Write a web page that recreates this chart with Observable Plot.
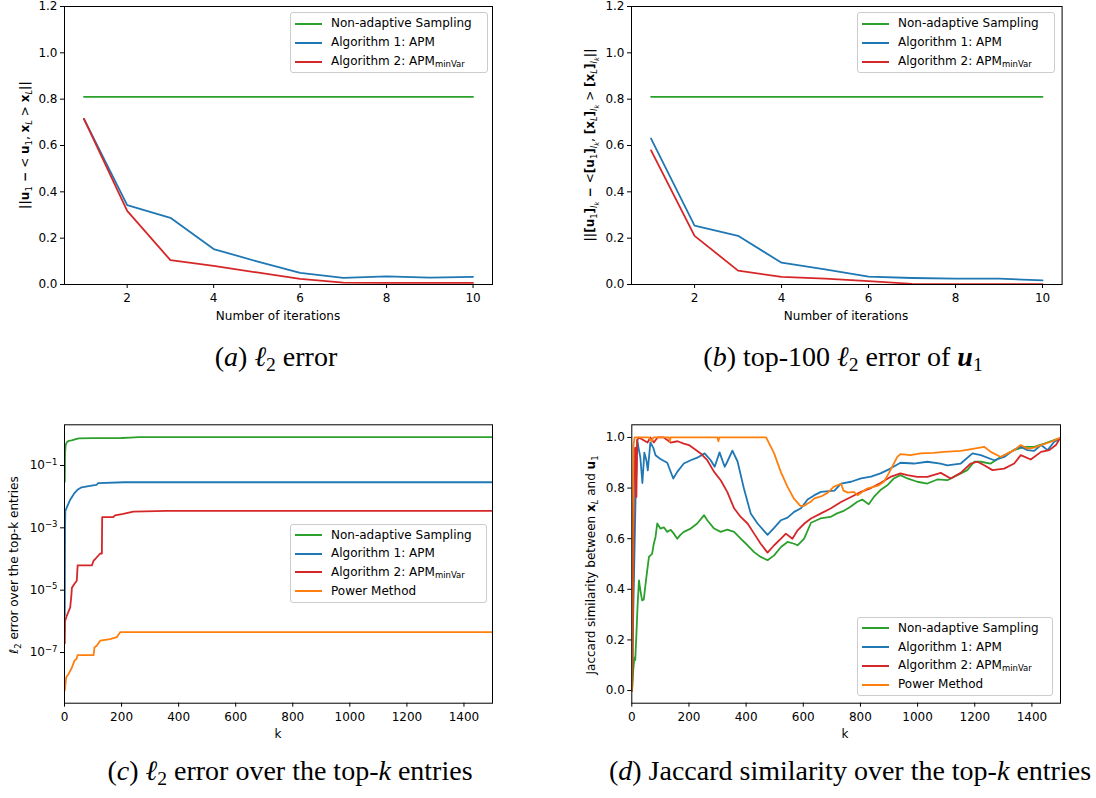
<!DOCTYPE html>
<html><head><meta charset="utf-8">
<script src="https://cdn.jsdelivr.net/npm/d3@7"></script>
<script src="https://cdn.jsdelivr.net/npm/@observablehq/plot@0.6"></script>
<style>
body{margin:0;background:#fff;}
#root{position:relative;width:1096px;height:798px;overflow:hidden;font-family:"DejaVu Sans",sans-serif;}
.panel{position:absolute;}
.legend{position:absolute;background:rgba(255,255,255,0.8);border:1px solid #cccccc;border-radius:3px;box-sizing:border-box;}
.lrow{position:absolute;font:12px "DejaVu Sans";color:#000;white-space:nowrap;line-height:14px;}
.lline{position:absolute;height:2px;}
.lrow sub{font-size:8.5px;vertical-align:-2px;line-height:0;}
.caption{position:absolute;width:700px;text-align:center;font-family:"Liberation Serif","Times New Roman",serif;font-size:28px;line-height:28px;color:#000;white-space:nowrap;}
.caption sub{font-size:0.7em;vertical-align:-0.25em;line-height:0;}
</style></head>
<body><div id="root"></div>
<script>
// ---------- data ----------
const seriesNames = ["Non-adaptive Sampling", "Algorithm 1: APM", "Algorithm 2: APM_minVar", "Power Method"];
const seriesColors = ["#2ca02c", "#1f77b4", "#d62728", "#ff7f0e"];

// (a) l2 error vs iterations
const iterations = [1, 2, 3, 4, 5, 6, 7, 8, 9, 10];
const errA_nonAdaptive = [0.81, 0.81, 0.81, 0.81, 0.81, 0.81, 0.81, 0.81, 0.81, 0.81];
const errA_apm = [0.715, 0.343, 0.288, 0.153, 0.1, 0.05, 0.029, 0.035, 0.03, 0.033];
const errA_minVar = [0.715, 0.318, 0.105, 0.08, 0.052, 0.024, 0.008, 0.007, 0.007, 0.007];

// (b) top-100 l2 error of u1
const errB_nonAdaptive = [0.81, 0.81, 0.81, 0.81, 0.81, 0.81, 0.81, 0.81, 0.81, 0.81];
const errB_apm = [0.63, 0.254, 0.21, 0.094, 0.065, 0.034, 0.028, 0.025, 0.025, 0.018];
const errB_minVar = [0.579, 0.21, 0.06, 0.033, 0.025, 0.015, 0.003, 0.002, 0.002, 0.002];

// (c) l2 error over the top-k entries (log scale)
const kC_nonAdaptive = [1, 2, 4, 8, 15, 25, 40, 50, 100, 200, 230, 260, 1500];
const errC_nonAdaptive = [0.03, 0.25, 0.45, 0.55, 0.62, 0.64, 0.70, 0.74, 0.75, 0.76, 0.78, 0.81, 0.81];
const kC_apm = [1, 2, 3, 10, 20, 35, 47, 60, 100, 112, 118, 210, 1500];
const errC_apm = [1.5e-6, 1e-3, 3.5e-3, 5e-3, 8e-3, 0.013, 0.017, 0.02, 0.023, 0.024, 0.027, 0.029, 0.029];
const kC_minVar = [1, 2, 6, 20, 24, 26, 35, 43, 46, 96, 102, 108, 125, 131, 132, 171, 177, 206, 241, 358, 1500];
const errC_minVar = [2e-7, 1e-6, 1.35e-6, 2.8e-6, 6.7e-6, 1.2e-5, 1.6e-5, 2e-5, 6.2e-5, 6.2e-5, 8.9e-5, 1.0e-4, 1.5e-4, 1.5e-4, 2.2e-3, 2.2e-3, 2.5e-3, 2.8e-3, 3.3e-3, 3.5e-3, 3.5e-3];
const kC_power = [1, 6, 15, 26, 35, 42, 46, 102, 105, 113, 125, 160, 183, 195, 1500];
const errC_power = [6e-9, 1.6e-8, 2.1e-8, 3.3e-8, 5.5e-8, 6.2e-8, 8.3e-8, 8.3e-8, 1.45e-7, 1.65e-7, 2.4e-7, 2.7e-7, 3.1e-7, 4.5e-7, 4.5e-7];

// (d) Jaccard similarity over the top-k entries
const kD_nonAdaptive = [1, 5, 9, 12, 16, 20, 25, 30, 36, 42, 48, 54, 60, 65, 71, 77, 83, 89, 100, 112, 124, 136, 147, 159, 170, 182, 206, 229, 253, 264, 288, 311, 334, 358, 381, 405, 428, 451, 475, 498, 522, 545, 568, 580, 603, 627, 660, 695, 718, 742, 765, 788, 806, 829, 847, 870, 894, 917, 940, 964, 999, 1034, 1069, 1104, 1139, 1174, 1198, 1221, 1256, 1291, 1338, 1373, 1408, 1443, 1478, 1500];
const jacD_nonAdaptive = [0, 0.08, 0.13, 0.12, 0.22, 0.33, 0.435, 0.396, 0.356, 0.36, 0.42, 0.475, 0.528, 0.534, 0.54, 0.58, 0.607, 0.66, 0.64, 0.645, 0.627, 0.635, 0.62, 0.6, 0.615, 0.627, 0.64, 0.66, 0.693, 0.673, 0.64, 0.627, 0.636, 0.627, 0.6, 0.574, 0.547, 0.528, 0.515, 0.534, 0.567, 0.587, 0.58, 0.574, 0.6, 0.663, 0.68, 0.686, 0.7, 0.71, 0.726, 0.745, 0.755, 0.736, 0.765, 0.792, 0.811, 0.838, 0.851, 0.838, 0.825, 0.818, 0.834, 0.831, 0.851, 0.871, 0.904, 0.904, 0.897, 0.923, 0.95, 0.963, 0.963, 0.976, 0.99, 0.996];
const kD_apm = [1, 5, 13, 19, 25, 30, 37, 44, 51, 56, 65, 75, 83, 100, 124, 145, 159, 182, 206, 229, 255, 276, 290, 307, 325, 334, 352, 370, 393, 416, 440, 475, 498, 522, 545, 568, 592, 615, 639, 662, 709, 732, 767, 802, 837, 870, 905, 940, 987, 1034, 1080, 1104, 1151, 1192, 1221, 1268, 1303, 1338, 1361, 1385, 1408, 1432, 1455, 1478, 1500];
const jacD_apm = [0, 0.3, 0.75, 0.99, 0.95, 0.92, 0.82, 0.94, 0.91, 0.87, 0.98, 0.96, 0.93, 0.915, 0.9, 0.838, 0.864, 0.897, 0.91, 0.92, 0.937, 0.91, 0.884, 0.941, 0.884, 0.904, 0.948, 0.905, 0.795, 0.7, 0.66, 0.615, 0.643, 0.673, 0.683, 0.706, 0.72, 0.755, 0.772, 0.785, 0.79, 0.818, 0.825, 0.838, 0.845, 0.858, 0.877, 0.9, 0.897, 0.904, 0.897, 0.89, 0.897, 0.937, 0.93, 0.91, 0.923, 0.952, 0.963, 0.95, 0.947, 0.97, 0.95, 0.983, 0.996];
const kD_minVar = [1, 4, 7, 9, 12, 16, 19, 25, 40, 55, 65, 77, 90, 112, 136, 160, 182, 200, 217, 241, 264, 288, 311, 334, 358, 381, 405, 428, 451, 475, 498, 522, 539, 562, 580, 604, 627, 662, 697, 732, 767, 802, 837, 870, 905, 940, 964, 999, 1034, 1081, 1116, 1151, 1186, 1209, 1233, 1262, 1303, 1338, 1361, 1396, 1432, 1461, 1484, 1500];
const jacD_minVar = [0, 0.3, 0.74, 0.95, 0.96, 0.765, 0.99, 1.0, 0.99, 0.98, 1.0, 0.98, 1.0, 1.0, 0.98, 0.985, 0.976, 0.97, 0.956, 0.937, 0.91, 0.864, 0.831, 0.785, 0.72, 0.686, 0.66, 0.62, 0.58, 0.545, 0.574, 0.6, 0.62, 0.6, 0.633, 0.66, 0.68, 0.70, 0.72, 0.745, 0.765, 0.785, 0.8, 0.82, 0.844, 0.858, 0.851, 0.844, 0.844, 0.86, 0.838, 0.86, 0.897, 0.904, 0.89, 0.871, 0.877, 0.897, 0.93, 0.913, 0.943, 0.95, 0.97, 1.0];
const kD_power = [1, 3, 6, 10, 60, 70, 75, 80, 130, 133, 136, 300, 303, 306, 470, 498, 522, 545, 568, 590, 603, 615, 625, 639, 662, 685, 706, 732, 741, 756, 777, 790, 823, 864, 882, 899, 929, 940, 975, 1011, 1057, 1092, 1151, 1198, 1233, 1256, 1291, 1315, 1338, 1361, 1385, 1408, 1432, 1467, 1500];
const jacD_power = [0, 0.6, 0.97, 1.0, 1.0, 0.985, 1.0, 1.0, 1.0, 0.985, 1.0, 1.0, 0.985, 1.0, 1.0, 0.937, 0.862, 0.805, 0.757, 0.73, 0.73, 0.739, 0.745, 0.759, 0.767, 0.781, 0.805, 0.817, 0.79, 0.782, 0.785, 0.772, 0.798, 0.811, 0.825, 0.858, 0.923, 0.934, 0.93, 0.937, 0.939, 0.943, 0.947, 0.956, 0.963, 0.943, 0.923, 0.937, 0.95, 0.97, 0.956, 0.96, 0.97, 0.983, 1.0];

// tick values
const ticksAB_x = [2, 4, 6, 8, 10];
const ticksAB_y = [0, 0.2, 0.4, 0.6, 0.8, 1.0, 1.2];
const ticksCD_x = [0, 200, 400, 600, 800, 1000, 1200, 1400];
const ticksC_y = [1e-7, 1e-5, 1e-3, 1e-1];
const ticksD_y = [0, 0.2, 0.4, 0.6, 0.8, 1.0];

// ---------- helpers ----------
function rows(xs, ys, name) { return xs.map((x, i) => ({x, y: ys[i], series: name})); }
const root = document.getElementById("root");
const FONT = "DejaVu Sans";

function place(el, left, top) {
  const d = document.createElement("div");
  d.className = "panel"; d.style.left = left + "px"; d.style.top = top + "px";
  d.appendChild(el); root.appendChild(d);
}

function svgText(svg, x, y, segs, rotate) {
  const size = 12;
  const sizes = [size, size * 0.7, size * 0.55];
  const shifts = [0, 3, 5];
  const t = d3.select(svg).append("text")
    .attr("text-anchor", "middle").attr("font-size", size).attr("fill", "#000")
    .attr("font-family", FONT).style("white-space", "pre")
    .attr("transform", rotate ? `translate(${x},${y}) rotate(-90)` : `translate(${x},${y})`);
  let level = 0;
  for (const s of segs) {
    const lvl = s.sub || 0;
    const ts = t.append("tspan").text(s.t).attr("font-size", sizes[lvl]);
    const dy = shifts[lvl] - shifts[level];
    if (dy) ts.attr("dy", dy);
    if (s.b) ts.attr("font-weight", "bold");
    if (s.i) ts.attr("font-style", "italic");
    level = lvl;
  }
  if (level) t.append("tspan").text("").attr("dy", -shifts[level]);
}

function legend(left, top, width, height, firstY, gap, names) {
  const box = document.createElement("div");
  box.className = "legend";
  Object.assign(box.style, {left: left + "px", top: top + "px", width: width + "px", height: height + "px"});
  root.appendChild(box);
  names.forEach((n, i) => {
    const cy = firstY + i * gap;
    const ln = document.createElement("div");
    ln.className = "lline";
    Object.assign(ln.style, {left: (left + 5) + "px", top: (cy - 1) + "px", width: "27px", background: seriesColors[seriesNames.indexOf(n)]});
    root.appendChild(ln);
    const tx = document.createElement("div");
    tx.className = "lrow";
    tx.style.left = (left + 41) + "px"; tx.style.top = (cy - 7.5) + "px";
    if (n.includes("_")) { const [a, b] = n.split("_"); tx.innerHTML = a + "<sub>" + b + "</sub>"; }
    else tx.textContent = n;
    root.appendChild(tx);
  });
}

function caption(center, top, html) {
  const d = document.createElement("div");
  d.className = "caption";
  d.style.left = (center - 350) + "px"; d.style.top = top + "px";
  d.innerHTML = html;
  root.appendChild(d);
}

const baseStyle = {fontFamily: FONT, fontSize: "12px", color: "#000", background: "transparent", overflow: "visible"};
const colorScale = {domain: seriesNames, range: seriesColors};
const expFmt = d => String(Math.round(Math.log10(d)));

function linePlot({data, width, height, margins, xDomain, yDomain, xTicks, yTicks, yType, yFmt, xFmt}) {
  return Plot.plot({
    width, height,
    marginLeft: margins[0], marginTop: margins[1], marginRight: margins[2], marginBottom: margins[3],
    style: baseStyle,
    x: {domain: xDomain, ticks: xTicks, tickSize: 4, tickPadding: 5, label: null, tickFormat: xFmt},
    y: {domain: yDomain, type: yType || "linear", ticks: yTicks, tickSize: 4, tickPadding: 3, label: null, tickFormat: yFmt},
    color: colorScale,
    marks: [
      Plot.line(data, {x: "x", y: "y", z: "series", stroke: "series", strokeWidth: 1.8, clip: true}),
      Plot.frame({stroke: "#000", strokeWidth: 1})
    ]
  });
}

// rewrite log tick labels as 10 with a real superscript exponent
function superscriptTicks(svg) {
  d3.select(svg).selectAll('g[aria-label="y-axis tick label"] text').each(function () {
    const t = d3.select(this);
    const e = t.text().replace("-", "−").replace("\u2212", "−");
    t.text("");
    t.append("tspan").text("10");
    t.append("tspan").text(e).attr("font-size", 8.5).attr("dy", "-0.55em");
  });
}

// ---------- panel (a) ----------
const dataA = [
  ...rows(iterations, errA_nonAdaptive, seriesNames[0]),
  ...rows(iterations, errA_apm, seriesNames[1]),
  ...rows(iterations, errA_minVar, seriesNames[2])
];
const pa = linePlot({data: dataA, width: 548, height: 330, margins: [64, 6, 56, 46],
  xDomain: [0.55, 10.45], yDomain: [0, 1.2], xTicks: ticksAB_x, yTicks: ticksAB_y, yFmt: d3.format(".1f"), xFmt: d3.format("d")});
svgText(pa, 278, 320, [{t: "Number of iterations"}]);
svgText(pa, 29, 145, [{t: "||", b: 1}, {t: "u", b: 1}, {t: "1", sub: 1}, {t: " − ", b: 1}, {t: "< "}, {t: "u", b: 1}, {t: "1", sub: 1},
  {t: ", "}, {t: "x", b: 1}, {t: "L", sub: 1, i: 1}, {t: " > "}, {t: "x", b: 1}, {t: "L", sub: 1, i: 1}, {t: "||", b: 1}], true);
place(pa, 0, 0);
legend(290, 12, 198, 61, 23.5, 19, seriesNames.slice(0, 3));

// ---------- panel (b) ----------
const dataB = [
  ...rows(iterations, errB_nonAdaptive, seriesNames[0]),
  ...rows(iterations, errB_apm, seriesNames[1]),
  ...rows(iterations, errB_minVar, seriesNames[2])
];
const pb = linePlot({data: dataB, width: 548, height: 330, margins: [83, 6, 34.4, 46],
  xDomain: [0.55, 10.45], yDomain: [0, 1.2], xTicks: ticksAB_x, yTicks: ticksAB_y, yFmt: d3.format(".1f"), xFmt: d3.format("d")});
svgText(pb, 298, 320, [{t: "Number of iterations"}]);
const Ik = [{t: "I", sub: 1, i: 1}, {t: "k", sub: 2, i: 1}];
svgText(pb, 46, 145, [
  {t: "||[", b: 1}, {t: "u", b: 1}, {t: "1", sub: 1}, {t: "]", b: 1}, ...Ik,
  {t: " − ", b: 1}, {t: "<", b: 0}, {t: "[", b: 1}, {t: "u", b: 1}, {t: "1", sub: 1}, {t: "]", b: 1}, ...Ik,
  {t: ", "}, {t: "[", b: 1}, {t: "x", b: 1}, {t: "L", sub: 1, i: 1}, {t: "]", b: 1}, ...Ik,
  {t: " > "}, {t: "[", b: 1}, {t: "x", b: 1}, {t: "L", sub: 1, i: 1}, {t: "]", b: 1}, ...Ik, {t: "||", b: 1}
], true);
place(pb, 548, 0);
legend(857, 12, 198, 61, 23.5, 19, seriesNames.slice(0, 3));

// ---------- panel (c) ----------
const dataC = [
  ...rows(kC_nonAdaptive, errC_nonAdaptive, seriesNames[0]),
  ...rows(kC_apm, errC_apm, seriesNames[1]),
  ...rows(kC_minVar, errC_minVar, seriesNames[2]),
  ...rows(kC_power, errC_power, seriesNames[3])
];
const pc = linePlot({data: dataC, width: 548, height: 360, margins: [64, 24.3, 56, 57.3],
  xDomain: [0, 1500], yDomain: [Math.pow(10, -8.626), Math.pow(10, 0.305)], yType: "log",
  xTicks: ticksCD_x, yTicks: ticksC_y, yFmt: expFmt, xFmt: d3.format("d")});
superscriptTicks(pc);
svgText(pc, 278, 338, [{t: "k"}]);
svgText(pc, 18, 165, [{t: "ℓ", i: 1}, {t: "2", sub: 1}, {t: " error over the top-k entries"}], true);
place(pc, 0, 400);
legend(290, 524, 197, 79, 535, 18.7, seriesNames);

// ---------- panel (d) ----------
const dataD = [
  ...rows(kD_nonAdaptive, jacD_nonAdaptive, seriesNames[0]),
  ...rows(kD_apm, jacD_apm, seriesNames[1]),
  ...rows(kD_minVar, jacD_minVar, seriesNames[2]),
  ...rows(kD_power, jacD_power, seriesNames[3])
];
const pd = linePlot({data: dataD, width: 548, height: 360, margins: [83.3, 24.3, 36, 57.3],
  xDomain: [0, 1500], yDomain: [-0.05, 1.05], xTicks: ticksCD_x, yTicks: ticksD_y, yFmt: d3.format(".1f"), xFmt: d3.format("d")});
svgText(pd, 297, 338, [{t: "k"}]);
svgText(pd, 47, 165, [{t: "Jaccard similarity between "}, {t: "x", b: 1}, {t: "L", sub: 1, i: 1}, {t: " and "}, {t: "u", b: 1}, {t: "1", sub: 1}], true);
place(pd, 548, 400);
legend(857, 617, 196, 79, 628.3, 18.8, seriesNames);

// ---------- captions ----------
caption(276, 343, '(<i>a</i>) <i>ℓ</i><sub>2</sub> error');
caption(843, 343, '(<i>b</i>) top-100 <i>ℓ</i><sub>2</sub> error of <b><i>u</i></b><sub>1</sub>');
caption(290, 757, '(<i>c</i>) <i>ℓ</i><sub>2</sub> error over the top-<i>k</i> entries');
caption(850, 757, '(<i>d</i>) Jaccard similarity over the top-<i>k</i> entries');
</script>
</body></html>
